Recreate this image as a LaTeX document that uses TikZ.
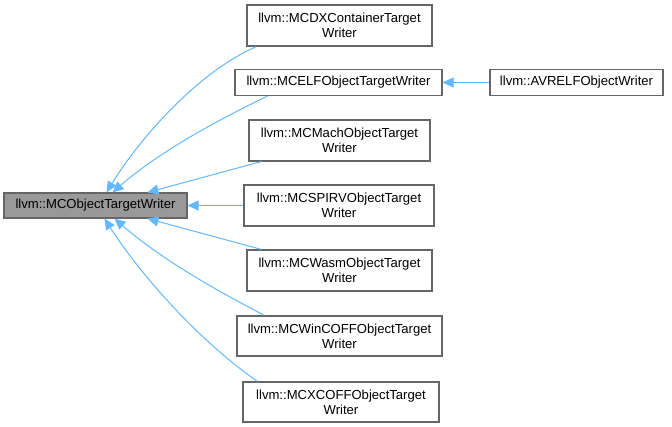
\documentclass[tikz,border=0pt]{standalone}
\usepackage{fontspec}
\setmainfont{Liberation Sans}
\usetikzlibrary{arrows.meta}
\definecolor{edgeblue}{HTML}{63B8FF}
\definecolor{boxborder}{HTML}{666666}
\definecolor{basefill}{HTML}{999999}
\begin{document}
\begin{tikzpicture}[x=1pt,y=-1pt,
  box/.style={draw=boxborder,line width=1.1pt,fill=white,inner sep=0pt,align=center,
    font=\fontsize{13.1}{15}\selectfont},
  edge/.style={draw=edgeblue,line width=1pt,-{Triangle[length=11pt,width=10pt]}}]
\useasboundingbox (0,0) rectangle (672,427);
\node[box,fill=basefill,minimum width=183pt,minimum height=25pt] (base) at (95.5,205.5) {llvm::MCObjectTargetWriter};
\node[box,minimum width=185pt,minimum height=41pt] (dx) at (339.5,25.5) {llvm::MCDXContainerTarget\\Writer};
\node[box,minimum width=207pt,minimum height=26pt] (elf) at (338.5,82.5) {llvm::MCELFObjectTargetWriter};
\node[box,minimum width=173pt,minimum height=26pt] (avr) at (576.5,82.5) {llvm::AVRELFObjectWriter};
\node[box,minimum width=181pt,minimum height=41pt] (mach) at (339.5,140.5) {llvm::MCMachObjectTarget\\Writer};
\node[box,minimum width=190pt,minimum height=41pt] (spirv) at (339,205.5) {llvm::MCSPIRVObjectTarget\\Writer};
\node[box,minimum width=185pt,minimum height=41pt] (wasm) at (339.5,270.5) {llvm::MCWasmObjectTarget\\Writer};
\node[box,minimum width=205pt,minimum height=40pt] (win) at (339.5,336) {llvm::MCWinCOFFObjectTarget\\Writer};
\node[box,minimum width=196pt,minimum height=40pt] (xcoff) at (341,402) {llvm::MCXCOFFObjectTarget\\Writer};
% edges
\draw[edge] (avr.west) -- (elf.east);
\draw[edge] (spirv.west) -- (base.east);
\draw[edge] ([xshift=10pt]dx.south west) .. controls (198,72) and (140,138) .. ([xshift=103pt]base.north west);
\draw[edge] ([xshift=33pt]elf.south west) .. controls (212,123) and (158,153) .. ([xshift=109pt]base.north west);
\draw[edge] ([xshift=13pt]mach.south west) -- ([xshift=144pt]base.north west);
\draw[edge] ([xshift=15pt]wasm.north west) -- ([xshift=144pt]base.south west);
\draw[edge] ([xshift=28pt]win.north west) .. controls (210,287) and (160,258) .. ([xshift=111pt]base.south west);
\draw[edge] ([xshift=15pt]xcoff.north west) .. controls (198,340) and (140,274) .. ([xshift=101pt]base.south west);
\end{tikzpicture}
\end{document}
